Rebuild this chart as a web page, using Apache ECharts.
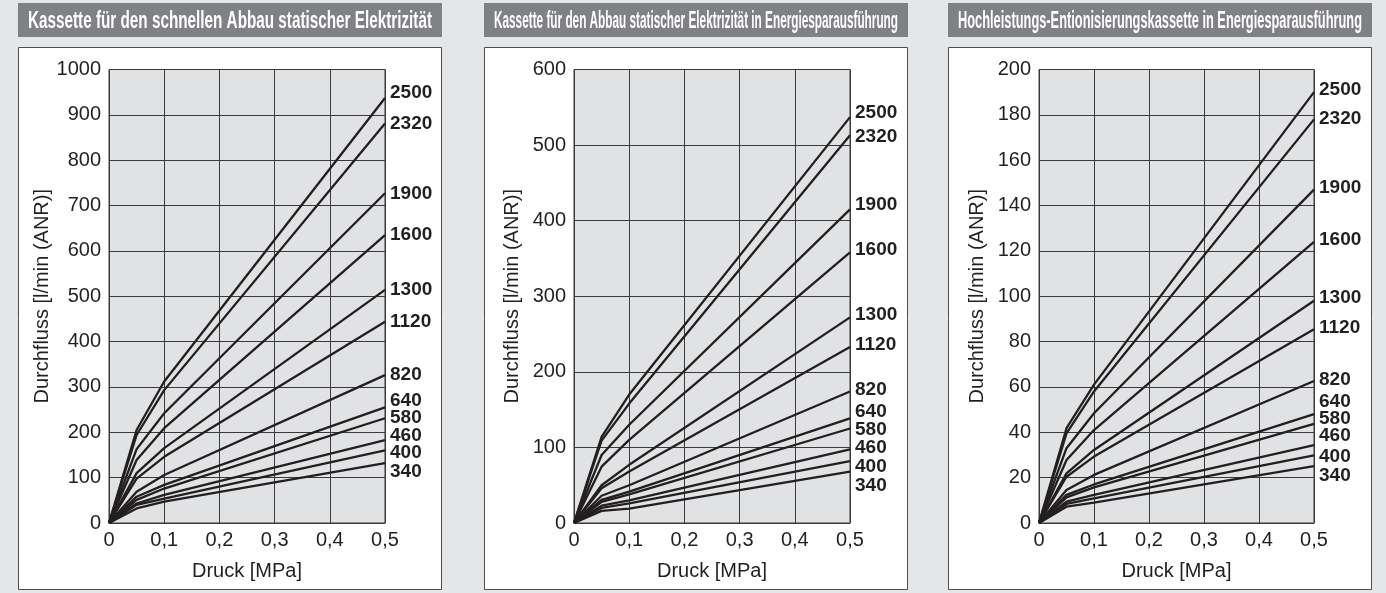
<!DOCTYPE html>
<html>
<head>
<meta charset="utf-8">
<title>Durchfluss</title>
<script src="https://cdn.jsdelivr.net/npm/echarts@6/dist/echarts.min.js"></script>
<style>
  html, body { margin: 0; padding: 0; background: #e5e6e7; }
  #main { width: 1386px; height: 593px; }
</style>
</head>
<body>
<div id="main"></div>
<script type="text/javascript">
// Druck [MPa] an den Knickpunkten
var pressure = [0, 0.05, 0.1, 0.5];
var sizes = ['2500', '2320', '1900', '1600', '1300', '1120', '820', '640', '580', '460', '400', '340'];

// Kassette für den schnellen Abbau
var fastAt005 = [205, 194, 163, 139, 110, 98, 69, 58, 51, 43, 40, 32];
var fastAt01 = [312, 293, 242, 209, 165, 146, 106, 84, 76, 62, 54, 47];
var fastAt05 = [937, 881, 727, 635, 514, 444, 326, 255, 231, 183, 160, 132];

// Energiesparausführung
var ecoAt005 = [114, 109, 90, 74.5, 50, 46, 36, 30.5, 28, 23, 20, 16];
var ecoAt01 = [170, 158, 130, 110, 77, 68, 50, 41.5, 38, 30, 26, 19];
var ecoAt05 = [537, 513, 415, 358, 272, 233, 174, 138.5, 125, 97.5, 82, 68];

// Hochleistungs-Entionisierungskassette
var highAt005 = [41.8, 39.5, 33, 27.8, 21.9, 20.4, 14.6, 12.4, 11.3, 9.4, 8.4, 7.2];
var highAt01 = [61, 58, 48.4, 41, 32.2, 29.3, 21.2, 17, 15.7, 12.4, 10.9, 9];
var highAt05 = [190, 178, 147, 124, 98, 85.4, 62.6, 48, 43.7, 34.3, 29.8, 25.1];

var titles = [
  'Kassette für den schnellen Abbau statischer Elektrizität',
  'Kassette für den Abbau statischer Elektrizität in Energiesparausführung',
  'Hochleistungs-Entionisierungskassette in Energiesparausführung'
];
var yMax = [1000, 600, 200];
var yStep = [100, 100, 20];

var panels = [
  { a: fastAt005, b: fastAt01, c: fastAt05 },
  { a: ecoAt005, b: ecoAt01, c: ecoAt05 },
  { a: highAt005, b: highAt01, c: highAt05 }
];

// Layout (Pixel)
var boxX = [18, 484, 948];
var boxW = 424;
var gridLeft = [109, 574, 1039];
var gridW = [276, 276, 275];
// vertikale Verschiebung der Beschriftungen am Linienende
var labelShift = [
  [-5, 0, 0, 0, 0, 0, 0, -7, 0, -4, 2, 9],
  [-4, 2, -5, -3, -3, -2, -2, -7, 1, -2, 6, 14],
  [-2, -1, -2, -2, -3, -2, -1, -12, -5, -9, 1, 10]
];

var ink = '#231f20';
var gridInk = '#3a3a3c';
var baseFont = '"Liberation Sans", Arial, sans-serif';

// Titeltext auf Balkenbreite stauchen
var ctx = document.createElement('canvas').getContext('2d');
var titleFont = 'bold 24px "Liberation Sans Narrow", "Liberation Sans", sans-serif';
function fitScale(text, width) {
  ctx.font = titleFont;
  var w = ctx.measureText(text).width;
  return Math.min(1, width / w);
}

var graphics = [];
var grids = [], xAxes = [], yAxes = [], series = [];

for (var p = 0; p < 3; p++) {
  graphics.push({
    type: 'rect', z: -10,
    shape: { x: boxX[p], y: 3, width: boxW, height: 34 },
    style: { fill: '#808184' }
  });
  graphics.push({
    type: 'rect', z: -10,
    shape: { x: boxX[p] + 0.5, y: 47.5, width: boxW - 1, height: 542 },
    style: { fill: '#ffffff', stroke: '#4d4d4f', lineWidth: 1 }
  });
  graphics.push({
    type: 'text', z: 10,
    x: boxX[p] + boxW / 2, y: 21,
    scaleX: fitScale(titles[p], 404),
    style: {
      text: titles[p], font: titleFont, fill: '#ffffff',
      align: 'center', verticalAlign: 'middle'
    }
  });

  grids.push({
    left: gridLeft[p], width: gridW[p], top: 69.5, bottom: 70,
    show: true, backgroundColor: '#e1e2e4', borderColor: gridInk, borderWidth: 1
  });
  xAxes.push({
    type: 'value', gridIndex: p, min: 0, max: 0.5, interval: 0.1,
    name: 'Druck [MPa]', nameLocation: 'middle', nameGap: 38,
    nameTextStyle: { fontSize: 20, color: ink, fontFamily: baseFont },
    axisLine: { show: true, lineStyle: { color: gridInk, width: 1 } },
    axisTick: { show: false },
    axisLabel: {
      fontSize: 20, color: ink, fontFamily: baseFont, margin: 7,
      formatter: function (v) { return v === 0 ? '0' : v.toFixed(1).replace('.', ','); }
    },
    splitLine: { show: true, lineStyle: { color: gridInk, width: 1 } }
  });
  yAxes.push({
    type: 'value', gridIndex: p, min: 0, max: yMax[p], interval: yStep[p],
    name: 'Durchfluss [l/min (ANR)]', nameLocation: 'middle', nameGap: 52,
    nameTextStyle: { fontSize: 20, color: ink, fontFamily: baseFont },
    axisLine: { show: true, lineStyle: { color: gridInk, width: 1 } },
    axisTick: { show: false },
    axisLabel: {
      fontSize: 20, color: ink, fontFamily: baseFont, margin: 8,
      formatter: function (v) { return String(v); }
    },
    splitLine: { show: true, lineStyle: { color: gridInk, width: 1 } }
  });

  var d = panels[p];
  for (var i = 0; i < sizes.length; i++) {
    var vals = [0, d.a[i], d.b[i], d.c[i]];
    series.push({
      name: sizes[i],
      type: 'line',
      xAxisIndex: p, yAxisIndex: p,
      data: pressure.map(function (x, k) { return [x, vals[k]]; }),
      symbol: 'none',
      silent: true,
      lineStyle: { color: ink, width: 2.3 },
      endLabel: {
        show: true, formatter: '{a}', distance: 5,
        offset: [0, labelShift[p][i]],
        fontSize: 19, fontWeight: 'bold', color: ink, fontFamily: baseFont
      },
      z: 3
    });
  }
}

var myChart = echarts.init(document.getElementById('main'));
myChart.setOption({
  animation: false,
  backgroundColor: '#e5e6e7',
  graphic: graphics,
  grid: grids,
  xAxis: xAxes,
  yAxis: yAxes,
  series: series
});
</script>
</body>
</html>
